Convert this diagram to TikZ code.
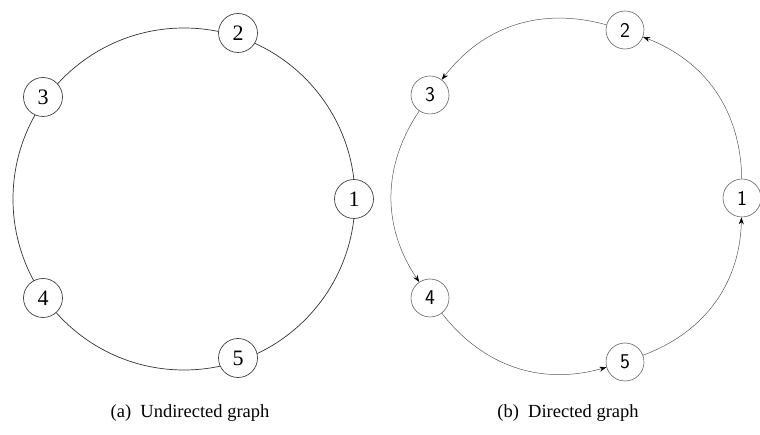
\documentclass[tikz,border=0pt]{standalone}
\usepackage{fontspec}
\setmainfont{Liberation Serif}
\usetikzlibrary{arrows.meta}
\begin{document}
\begin{tikzpicture}[x=1pt,y=-1pt,
  vtx/.style={circle,draw=black!75,fill=white,line width=0.7pt,minimum size=39pt,inner sep=0pt,font=\fontsize{22}{22}\selectfont},
  dvtx/.style={circle,draw=black!60,fill=white,line width=0.6pt,minimum size=38pt,inner sep=0pt,font=\fontsize{21}{21}\selectfont\sffamily},
  dedge/.style={draw=black!65,line width=0.5pt,-{Stealth[length=7pt,width=5pt,black]},bend right=34},
  captext/.style={font=\fontsize{18.5}{18.5}\selectfont}]
\useasboundingbox (0,0) rectangle (760,435);
% left graph
\draw[black!80,line width=0.7pt] (184,199) circle (171);
\node[vtx] (l1) at (354,199) {1};
\node[vtx] (l2) at (238,33) {2};
\node[vtx] (l3) at (43,97) {3};
\node[vtx] (l4) at (43,298) {4};
\node[vtx] (l5) at (238,358) {5};
% right graph
\node[dvtx] (r1) at (742,198) {1};
\node[dvtx] (r2) at (625,30) {2};
\node[dvtx] (r3) at (430,95) {3};
\node[dvtx] (r4) at (430,298) {4};
\node[dvtx] (r5) at (625,362) {5};
\draw[dedge] (r1) to (r2);
\draw[dedge] (r2) to (r3);
\draw[dedge] (r3) to (r4);
\draw[dedge] (r4) to (r5);
\draw[dedge] (r5) to (r1);
% captions
\node[captext] (ca) at (190,413) {(a)\ \ Undirected graph};
\node[captext] (cb) at (568,413) {(b)\ \ Directed graph};
\end{tikzpicture}
\end{document}
